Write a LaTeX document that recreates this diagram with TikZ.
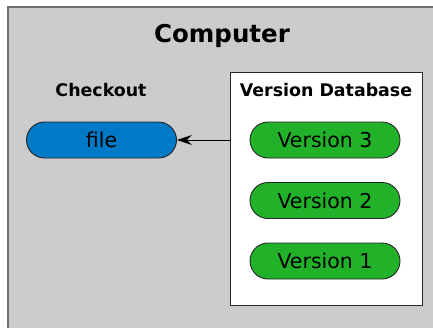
\documentclass[tikz,border=0pt]{standalone}
\usepackage{fontspec}
\setmainfont{DejaVu Sans}
\usetikzlibrary{shapes.misc,arrows.meta}

\definecolor{computergray}{HTML}{CCCCCC}
\definecolor{framegray}{HTML}{707070}
\definecolor{filebluefill}{HTML}{0079C7}
\definecolor{versiongreen}{HTML}{22B22A}

\begin{document}
\begin{tikzpicture}[x=1pt,y=-1pt,
  pill/.style={rounded rectangle,draw=black!85,line width=0.9pt,
    minimum width=150pt,minimum height=36pt,inner sep=0pt,
    font=\fontsize{20.5}{24}\selectfont},
  heading/.style={font=\bfseries\fontsize{17.4}{20}\selectfont},]

  \useasboundingbox (0,0) rectangle (433,327);

  % computer
  \draw[fill=computergray,draw=framegray,line width=2pt] (8,7) rectangle (450,340);
  \node[font=\bfseries\fontsize{24.5}{28}\selectfont] (computer) at (222,36) {Computer};

  % checkout
  \node[heading] (checkout) at (101,90) {Checkout};
  \node[pill,fill=filebluefill] (file) at (101.5,140) {file};

  % version database
  \node[draw=black!85,fill=white,line width=1.1pt,anchor=north west,
    minimum width=192pt,minimum height=233pt,inner sep=0pt] (db) at (230,72) {};
  \node[heading] (dbtitle) at (326,90) {Version Database};
  \node[pill,fill=versiongreen] (v3) at (325,140) {Version 3};
  \node[pill,fill=versiongreen] (v2) at (325,200.5) {Version 2};
  \node[pill,fill=versiongreen] (v1) at (325,261) {Version 1};

  % checkout arrow
  \draw[line width=1pt,-{Stealth[length=15pt,width=10pt,inset=5pt]}]
    (db.west |- file.east) -- (file.east);

\end{tikzpicture}
\end{document}
